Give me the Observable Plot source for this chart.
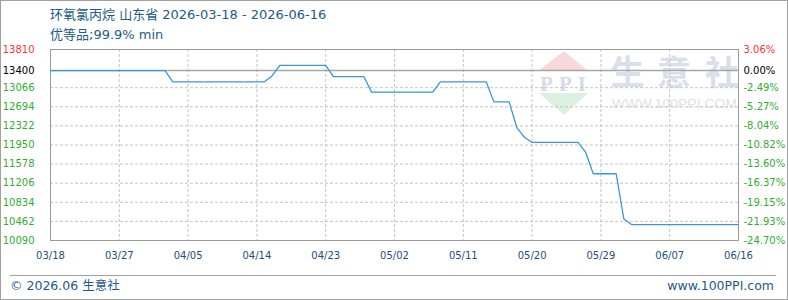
<!DOCTYPE html>
<html><head><meta charset="utf-8">
<script src="https://cdn.jsdelivr.net/npm/d3@7"></script>
<script src="https://cdn.jsdelivr.net/npm/@observablehq/plot@0.6"></script>
<style>
body{margin:0;background:#fff;}
#wrap{position:relative;width:788px;height:300px;overflow:hidden;background:#fff;font-family:"DejaVu Sans","Noto Sans CJK SC",sans-serif;}
#chart{position:absolute;left:0;top:0;}
#chart svg{display:block;}
.abs{position:absolute;white-space:nowrap;}
#border{position:absolute;left:0;top:0;width:788px;height:300px;box-sizing:border-box;border:1px solid #a0a0a0;pointer-events:none;}
</style></head><body>
<div id="wrap">
  <svg id="wm" class="abs" style="left:530px;top:40px" width="220" height="90">
    <polygon points="34,11 8,31 58,31" fill="#f8d9d9"/>
    <text x="33" y="51" text-anchor="middle" font-family="Liberation Serif" font-weight="bold" font-size="21" textLength="46" lengthAdjust="spacing" fill="#d3dbec">PPI</text>
    <polygon points="9,53 58,53 34,75" fill="#dcf0df"/>
    <text x="97.5" y="44.5" text-anchor="middle" font-family="Noto Sans CJK SC" font-weight="bold" font-size="34" fill="#d9dfeb">生</text>
    <text x="144" y="44.5" text-anchor="middle" font-family="Noto Sans CJK SC" font-weight="bold" font-size="34" fill="#d9dfeb">意</text>
    <text x="192" y="44.5" text-anchor="middle" font-family="Noto Sans CJK SC" font-weight="bold" font-size="34" fill="#d9dfeb">社</text>
    <text x="82" y="68.3" font-family="Liberation Sans" font-size="13" textLength="125" lengthAdjust="spacingAndGlyphs" fill="#e2e2e2">WWW.100PPI.COM</text>
  </svg>
  <div id="chart"></div>
  <div id="title" class="abs" style="left:50px;top:6px;font-size:13px;line-height:18px;color:#1a5c8a;"></div>
  <div id="subtitle" class="abs" style="left:50px;top:26px;font-size:13px;line-height:18px;color:#1a5c8a;"></div>
  <div class="abs" style="left:10px;top:275px;width:766px;height:1px;background:#a0a0a0;"></div>
  <div id="footL" class="abs" style="left:10px;top:278px;font-size:12.5px;line-height:16px;color:#1d5a8a;"></div>
  <div id="footR" class="abs" style="right:14px;top:278px;font-size:12.5px;line-height:16px;color:#1d5a8a;"></div>
  <div id="border"></div>
</div>
<script>
// ---- data ----
const dates = ["2026-03-18","2026-04-02","2026-04-03","2026-04-15","2026-04-16","2026-04-17","2026-04-23","2026-04-24","2026-04-28","2026-04-29","2026-05-07","2026-05-08","2026-05-14","2026-05-15","2026-05-17","2026-05-18","2026-05-19","2026-05-20","2026-05-26","2026-05-27","2026-05-28","2026-05-31","2026-06-01","2026-06-02","2026-06-16"];
const prices = [13400,13400,13180,13180,13300,13500,13500,13280,13280,12980,12980,13180,13180,12790,12790,12290,12100,12000,12000,11810,11390,11390,10510,10400,10400];
const yTicks = [10090,10462,10834,11206,11578,11950,12322,12694,13066,13400,13810];
const xTickDates = ["2026-03-18","2026-03-27","2026-04-05","2026-04-14","2026-04-23","2026-05-02","2026-05-11","2026-05-20","2026-05-29","2026-06-07","2026-06-16"];
const basePrice = 13400;
const titleText = "环氧氯丙烷 山东省 2026-03-18 - 2026-06-16";
const subtitleText = "优等品;99.9% min";
const footerLeft = "© 2026.06 生意社";
const footerRight = "www.100PPI.com";

document.getElementById("title").textContent = titleText;
document.getElementById("subtitle").textContent = subtitleText;
document.getElementById("footL").textContent = footerLeft;
document.getElementById("footR").textContent = footerRight;

const toDate = s => new Date(s + "T00:00:00Z");
const data = dates.map((d, i) => ({date: toDate(d), price: prices[i]}));
const xt = xTickDates.map(toDate);
const yMin = d3.min(yTicks), yMax = d3.max(yTicks);
const upTicks = yTicks.filter(v => v > basePrice);
const baseTicks = yTicks.filter(v => v === basePrice);
const downTicks = yTicks.filter(v => v < basePrice);
const gridYTicks = yTicks.filter(v => v !== basePrice && v !== yMin && v !== yMax);
const fmtPct = d => ((d - basePrice) / basePrice * 100).toFixed(2) + "%";

const axisPair = (ticks, color) => [
  Plot.axisY({anchor: "left", ticks, tickSize: 0, tickPadding: 16, tickFormat: d => String(d), color, label: null}),
  Plot.axisY({anchor: "right", ticks, tickSize: 0, tickPadding: 5, tickFormat: fmtPct, color, label: null})
];

const chart = Plot.plot({
  width: 788, height: 300,
  marginLeft: 50, marginRight: 50, marginTop: 49, marginBottom: 60,
  style: {fontFamily: "DejaVu Sans, sans-serif", fontSize: "10px", background: "transparent", overflow: "visible"},
  x: {type: "utc", domain: [xt[0], xt[xt.length - 1]]},
  y: {domain: [yMin, yMax]},
  marks: [
    Plot.gridX(xt.slice(1, -1), {stroke: "#c4c4c4", strokeOpacity: 1, strokeDasharray: "3,2"}),
    Plot.gridY(gridYTicks, {stroke: "#c4c4c4", strokeOpacity: 1, strokeDasharray: "3,2"}),
    Plot.ruleY([basePrice], {stroke: "#a6a6a6", strokeWidth: 1.5}),
    Plot.frame({stroke: "#9a9a9a"}),
    Plot.line(data, {x: "date", y: "price", stroke: "#3a98d8", strokeWidth: 1.3}),
    Plot.axisX({ticks: xt, tickFormat: d3.utcFormat("%m/%d"), tickSize: 0, tickPadding: 11, color: "#1d4f7e", label: null}),
    ...axisPair(upTicks, "#ff3333"),
    ...axisPair(baseTicks, "#000000"),
    ...axisPair(downTicks, "#2fae2f")
  ]
});
document.getElementById("chart").appendChild(chart);
</script>
</body></html>
